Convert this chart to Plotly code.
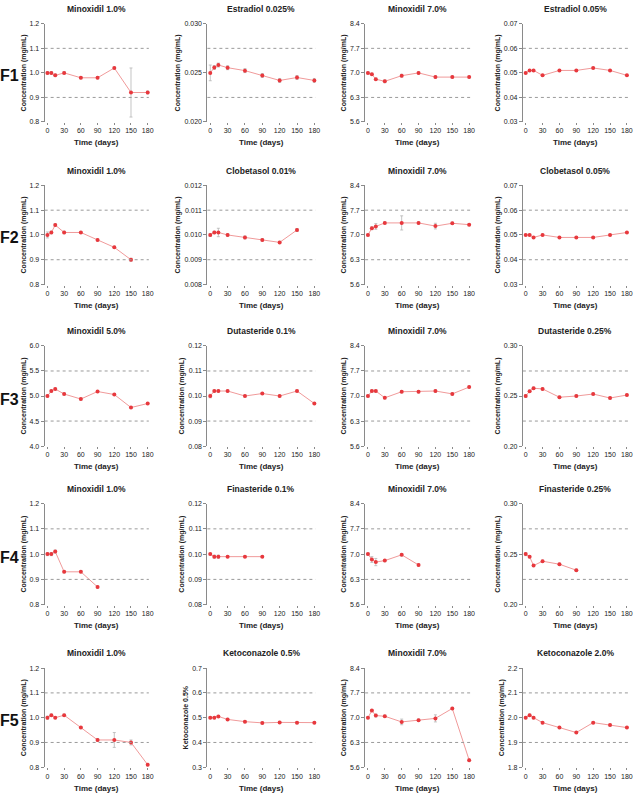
import plotly.graph_objects as go

W, H = 639, 797

# ---------------- data ----------------
days = [0, 7, 14, 30, 60, 90, 120, 150, 180]
x_ticks = [0, 30, 60, 90, 120, 150, 180]

# F1
f1_minox1 = [1.00, 1.00, 0.99, 1.00, 0.98, 0.98, 1.02, 0.92, 0.92]
f1_minox1_err = [0.005, 0.005, 0.005, 0.005, 0.004, 0.004, 0.004, 0.10, 0.006]
f1_estr025 = [0.0250, 0.02555, 0.0258, 0.02553, 0.02523, 0.02473, 0.02423, 0.02453, 0.02423]
f1_estr025_err = [0.0008, 0.0002, 0.0002, 0.0002, 0.0002, 0.0002, 0.0002, 0.0002, 0.0002]
f1_minox7 = [7.00, 6.96, 6.82, 6.76, 6.92, 7.00, 6.88, 6.88, 6.88]
f1_minox7_err = [0.03, 0.03, 0.03, 0.04, 0.04, 0.03, 0.03, 0.03, 0.03]
f1_estr05 = [0.050, 0.051, 0.051, 0.049, 0.051, 0.051, 0.052, 0.051, 0.049]
f1_estr05_err = [0.0003] * 9

# F2
f2_minox1 = [1.00, 1.01, 1.04, 1.01, 1.01, 0.98, 0.95, 0.90, None]
f2_minox1_err = [0.012, 0.005, 0.005, 0.005, 0.004, 0.004, 0.004, 0.006, 0]
f2_clob001 = [0.0100, 0.0101, 0.0101, 0.0100, 0.0099, 0.0098, 0.0097, 0.0102, None]
f2_clob001_err = [0.00006, 0.00005, 0.00017, 0.00005, 0.00006, 0.00005, 0.00004, 0.00006, 0]
f2_minox7 = [7.00, 7.19, 7.24, 7.34, 7.34, 7.34, 7.25, 7.33, 7.29]
f2_minox7_err = [0.03, 0.04, 0.08, 0.03, 0.20, 0.03, 0.08, 0.03, 0.03]
f2_clob005 = [0.050, 0.050, 0.049, 0.050, 0.049, 0.049, 0.049, 0.050, 0.051]
f2_clob005_err = [0.0003] * 9

# F3
f3_minox5 = [5.00, 5.10, 5.14, 5.04, 4.94, 5.09, 5.03, 4.77, 4.85]
f3_minox5_err = [0.02] * 9
f3_dut01 = [0.100, 0.102, 0.102, 0.102, 0.100, 0.101, 0.100, 0.102, 0.097]
f3_dut01_err = [0.0007, 0.0004, 0.0004, 0.0004, 0.0004, 0.0004, 0.0004, 0.0004, 0.0004]
f3_minox7 = [7.00, 7.14, 7.14, 6.95, 7.12, 7.12, 7.14, 7.06, 7.25]
f3_minox7_err = [0.03] * 9
f3_dut025 = [0.250, 0.2548, 0.2578, 0.2571, 0.2488, 0.250, 0.252, 0.248, 0.251]
f3_dut025_err = [0.0015, 0.001, 0.001, 0.001, 0.001, 0.001, 0.001, 0.001, 0.001]

# F4
f4_minox1 = [1.00, 1.00, 1.01, 0.93, 0.93, 0.87, None, None, None]
f4_minox1_err = [0.006, 0.006, 0.006, 0.004, 0.004, 0.004, 0, 0, 0]
f4_fin01 = [0.100, 0.099, 0.099, 0.099, 0.099, 0.099, None, None, None]
f4_fin01_err = [0.0003, 0.0006, 0.0006, 0.0003, 0.0003, 0.0003, 0, 0, 0]
f4_minox7 = [7.00, 6.85, 6.78, 6.82, 6.98, 6.70, None, None, None]
f4_minox7_err = [0.03, 0.08, 0.10, 0.03, 0.03, 0.03, 0, 0, 0]
f4_fin025 = [0.250, 0.2473, 0.2387, 0.243, 0.240, 0.2341, None, None, None]
f4_fin025_err = [0.0015, 0.001, 0.001, 0.001, 0.001, 0.001, 0, 0, 0]

# F5
f5_minox1 = [1.00, 1.01, 1.00, 1.01, 0.96, 0.91, 0.91, 0.90, 0.81]
f5_minox1_err = [0.006, 0.004, 0.004, 0.004, 0.004, 0.006, 0.03, 0.01, 0.004]
f5_keto05 = [0.500, 0.500, 0.505, 0.493, 0.484, 0.479, 0.481, 0.480, 0.480]
f5_keto05_err = [0.004] * 9
f5_minox7 = [7.00, 7.20, 7.06, 7.04, 6.88, 6.93, 6.98, 7.26, 5.80]
f5_minox7_err = [0.03, 0.03, 0.04, 0.03, 0.08, 0.03, 0.10, 0.03, 0.04]
f5_keto2 = [2.00, 2.01, 2.00, 1.98, 1.96, 1.94, 1.98, 1.97, 1.96]
f5_keto2_err = [0.004] * 9

row_labels = ["F1", "F2", "F3", "F4", "F5"]

CONC = "Concentration (mg/mL)"
panels = [
    # row 1
    dict(t="Minoxidil 1.0%", y=f1_minox1, e=f1_minox1_err, r=[0.8, 1.2], tv=[0.8, 0.9, 1.0, 1.1, 1.2], f=".1f", ref=[0.9, 1.1], yt=CONC),
    dict(t="Estradiol 0.025%", y=f1_estr025, e=f1_estr025_err, r=[0.020, 0.030], tv=[0.020, 0.025, 0.030], f=".3f", ref=[0.0225, 0.0275], yt=CONC),
    dict(t="Minoxidil 7.0%", y=f1_minox7, e=f1_minox7_err, r=[5.6, 8.4], tv=[5.6, 6.3, 7.0, 7.7, 8.4], f=".1f", ref=[6.3, 7.7], yt=CONC),
    dict(t="Estradiol 0.05%", y=f1_estr05, e=f1_estr05_err, r=[0.03, 0.07], tv=[0.03, 0.04, 0.05, 0.06, 0.07], f=".2f", ref=[0.04, 0.06], yt=CONC),
    # row 2
    dict(t="Minoxidil 1.0%", y=f2_minox1, e=f2_minox1_err, r=[0.8, 1.2], tv=[0.8, 0.9, 1.0, 1.1, 1.2], f=".1f", ref=[0.9, 1.1], yt=CONC),
    dict(t="Clobetasol 0.01%", y=f2_clob001, e=f2_clob001_err, r=[0.008, 0.012], tv=[0.008, 0.009, 0.010, 0.011, 0.012], f=".3f", ref=[0.009, 0.011], yt=CONC),
    dict(t="Minoxidil 7.0%", y=f2_minox7, e=f2_minox7_err, r=[5.6, 8.4], tv=[5.6, 6.3, 7.0, 7.7, 8.4], f=".1f", ref=[6.3, 7.7], yt=CONC),
    dict(t="Clobetasol 0.05%", y=f2_clob005, e=f2_clob005_err, r=[0.03, 0.07], tv=[0.03, 0.04, 0.05, 0.06, 0.07], f=".2f", ref=[0.04, 0.06], yt=CONC),
    # row 3
    dict(t="Minoxidil 5.0%", y=f3_minox5, e=f3_minox5_err, r=[4.0, 6.0], tv=[4.0, 4.5, 5.0, 5.5, 6.0], f=".1f", ref=[4.5, 5.5], yt=CONC),
    dict(t="Dutasteride 0.1%", y=f3_dut01, e=f3_dut01_err, r=[0.08, 0.12], tv=[0.08, 0.09, 0.10, 0.11, 0.12], f=".2f", ref=[0.09, 0.11], yt=CONC),
    dict(t="Minoxidil 7.0%", y=f3_minox7, e=f3_minox7_err, r=[5.6, 8.4], tv=[5.6, 6.3, 7.0, 7.7, 8.4], f=".1f", ref=[6.3, 7.7], yt=CONC),
    dict(t="Dutasteride 0.25%", y=f3_dut025, e=f3_dut025_err, r=[0.20, 0.30], tv=[0.20, 0.25, 0.30], f=".2f", ref=[0.225, 0.275], yt=CONC),
    # row 4
    dict(t="Minoxidil 1.0%", y=f4_minox1, e=f4_minox1_err, r=[0.8, 1.2], tv=[0.8, 0.9, 1.0, 1.1, 1.2], f=".1f", ref=[0.9, 1.1], yt=CONC),
    dict(t="Finasteride 0.1%", y=f4_fin01, e=f4_fin01_err, r=[0.08, 0.12], tv=[0.08, 0.09, 0.10, 0.11, 0.12], f=".2f", ref=[0.09, 0.11], yt=CONC),
    dict(t="Minoxidil 7.0%", y=f4_minox7, e=f4_minox7_err, r=[5.6, 8.4], tv=[5.6, 6.3, 7.0, 7.7, 8.4], f=".1f", ref=[6.3, 7.7], yt=CONC),
    dict(t="Finasteride 0.25%", y=f4_fin025, e=f4_fin025_err, r=[0.20, 0.30], tv=[0.20, 0.25, 0.30], f=".2f", ref=[0.225, 0.275], yt=CONC),
    # row 5
    dict(t="Minoxidil 1.0%", y=f5_minox1, e=f5_minox1_err, r=[0.8, 1.2], tv=[0.8, 0.9, 1.0, 1.1, 1.2], f=".1f", ref=[0.9, 1.1], yt=CONC),
    dict(t="Ketoconazole 0.5%", y=f5_keto05, e=f5_keto05_err, r=[0.3, 0.7], tv=[0.3, 0.4, 0.5, 0.6, 0.7], f=".1f", ref=[0.4, 0.6], yt="Ketoconazole 0.5%"),
    dict(t="Minoxidil 7.0%", y=f5_minox7, e=f5_minox7_err, r=[5.6, 8.4], tv=[5.6, 6.3, 7.0, 7.7, 8.4], f=".1f", ref=[6.3, 7.7], yt=CONC),
    dict(t="Ketoconazole 2.0%", y=f5_keto2, e=f5_keto2_err, r=[1.8, 2.2], tv=[1.8, 1.9, 2.0, 2.1, 2.2], f=".1f", ref=[1.9, 2.1], yt=CONC),
]

# ---------------- layout geometry (pixels) ----------------
col_px = [(45, 150), (209, 318), (368, 474), (527, 633)]
row_px = [(20, 119), (183, 283), (345, 446), (504, 606), (670, 770)]

FONT = "Liberation Sans, Arial, sans-serif"

LINE_C = "#f09a9a"
MARK_C = "#e8383d"
AX_C = "#8a8a8a"
TXT_C = "#222222"


def px_x(p):
    return p / W


def px_y(p):
    return 1 - p / H


fig = go.Figure()
layout = dict(
    width=W, height=H, margin=dict(l=0, r=0, t=0, b=0),
    paper_bgcolor="white", plot_bgcolor="white", showlegend=False,
    font=dict(family=FONT, color=TXT_C),
)
annotations = []
shapes = []

for i, p in enumerate(panels):
    r, c = divmod(i, 4)
    n = i + 1
    xa = "x" if n == 1 else f"x{n}"
    ya = "y" if n == 1 else f"y{n}"
    xk = "xaxis" if n == 1 else f"xaxis{n}"
    yk = "yaxis" if n == 1 else f"yaxis{n}"
    x0, x1 = col_px[c]
    y0, y1 = row_px[r]
    layout[xk] = dict(
        domain=[px_x(x0), px_x(x1)], anchor=ya, range=[-5, 182],
        tickvals=x_ticks, ticks="outside", ticklen=2, tickcolor=AX_C, tickwidth=1,
        showline=False, showgrid=False, zeroline=False,
        tickfont=dict(size=7, family=FONT, color=TXT_C),
    )
    layout[yk] = dict(
        domain=[px_y(y1), px_y(y0)], anchor=xa, range=p["r"],
        tickvals=p["tv"], tickformat=p["f"], ticks="outside", ticklen=3,
        tickcolor=AX_C, tickwidth=1, showline=True, linecolor=AX_C, linewidth=1,
        showgrid=False, zeroline=False,
        tickfont=dict(size=7, family=FONT, color=TXT_C),
        title=dict(text=f"<b>{p['yt']}</b>", font=dict(size=7, family=FONT, color=TXT_C), standoff=2),
    )
    # reference (acceptance limit) lines
    for rv in p["ref"]:
        shapes.append(dict(type="line", xref=f"{xa} domain", yref=ya, x0=0, x1=1,
                           y0=rv, y1=rv, line=dict(color="#9a9a9a", width=1, dash="dot")))
    xs = [d for d, v in zip(days, p["y"]) if v is not None]
    ys = [v for v in p["y"] if v is not None]
    es = [e for e, v in zip(p["e"], p["y"]) if v is not None]
    fig.add_trace(go.Scatter(
        x=xs, y=ys, xaxis=xa, yaxis=ya, mode="lines+markers",
        line=dict(color=LINE_C, width=1),
        marker=dict(color=MARK_C, size=4, symbol="circle"),
        error_y=dict(type="data", array=es, visible=True, color="#b5b5b5",
                     thickness=0.8, width=1.5),
        cliponaxis=False,
    ))
    # panel title
    annotations.append(dict(text=f"<b>{p['t']}</b>", xref="paper", yref="paper",
                            x=px_x((x0 + x1) / 2), y=px_y(y0 - 15), showarrow=False,
                            font=dict(size=8.5, family=FONT, color=TXT_C),
                            xanchor="center", yanchor="middle"))
    # x title
    annotations.append(dict(text="<b>Time (days)</b>", xref="paper", yref="paper",
                            x=px_x((x0 + x1) / 2), y=px_y(y1 + 21), showarrow=False,
                            font=dict(size=8, family=FONT, color=TXT_C),
                            xanchor="center", yanchor="middle"))

for r, lab in enumerate(row_labels):
    y0, y1 = row_px[r]
    annotations.append(dict(text=f"<b>{lab}</b>", xref="paper", yref="paper",
                            x=px_x(9.5), y=px_y((y0 + y1) / 2 + 3), showarrow=False,
                            font=dict(size=16, family=FONT, color="#111"),
                            xanchor="center", yanchor="middle"))

layout["annotations"] = annotations
layout["shapes"] = shapes
fig.update_layout(**layout)
fig.write_html("out.html")
